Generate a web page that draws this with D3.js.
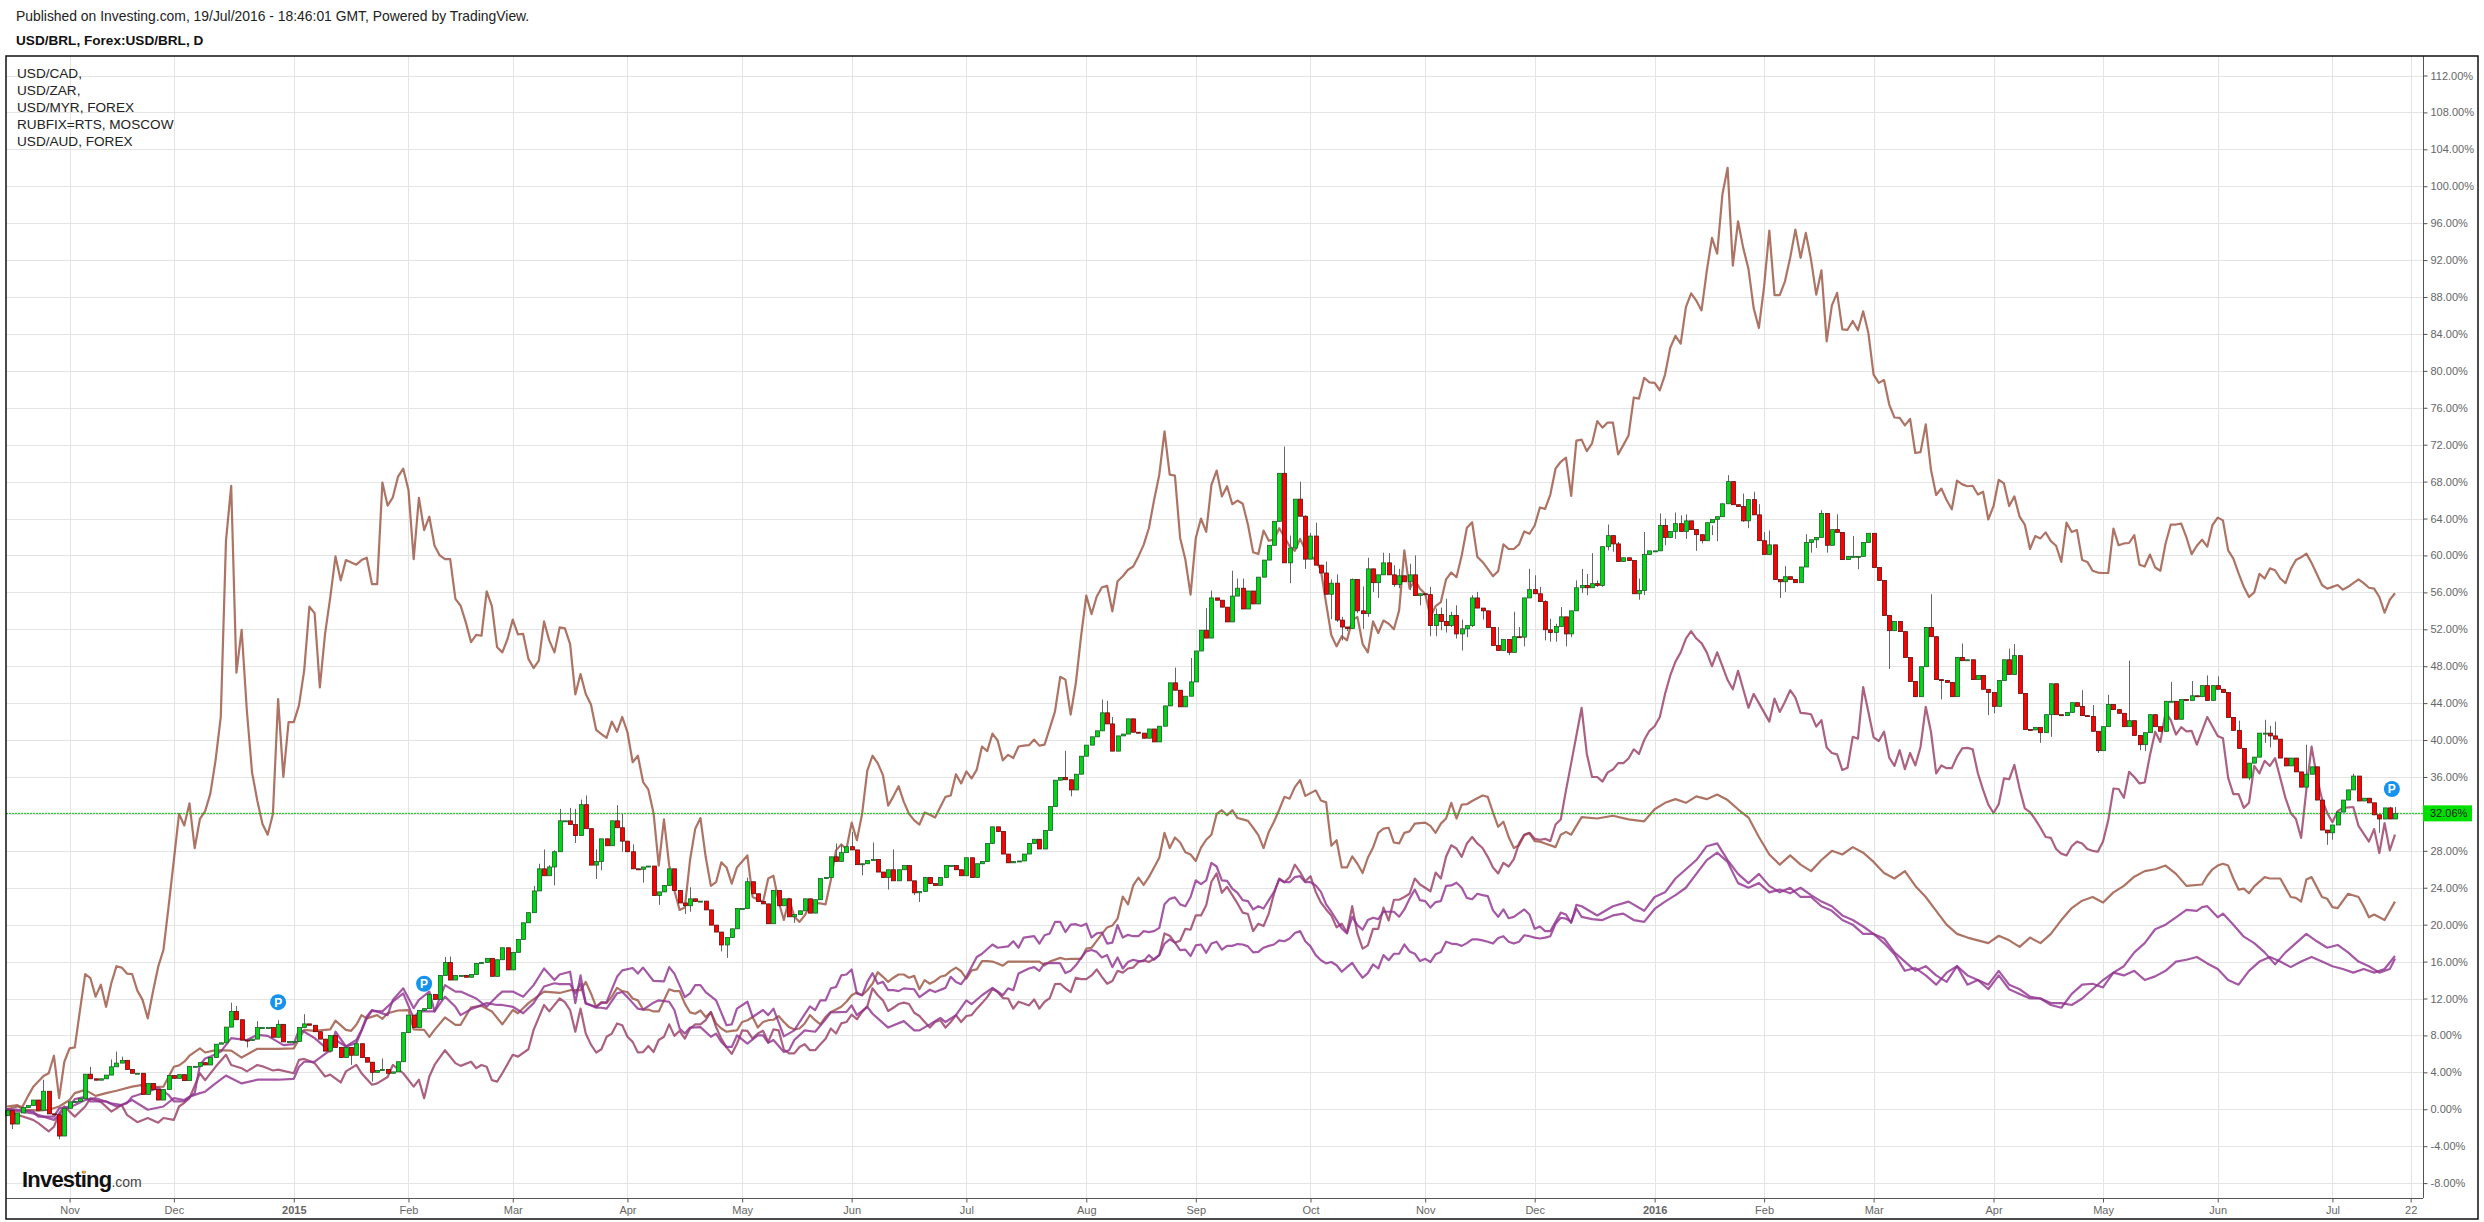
<!DOCTYPE html>
<html>
<head>
<meta charset="utf-8">
<title>USD/BRL</title>
<script src="https://cdnjs.cloudflare.com/ajax/libs/d3/7.8.5/d3.min.js"></script>
<style>
  html, body { margin: 0; padding: 0; background: #fff; }
  svg { display: block; font-family: "Liberation Sans", Arial, sans-serif; }
  .axis text { fill: #666; font-size: 11px; font-family: "Liberation Sans", Arial, sans-serif; }
  .axis path, .axis line { stroke: #555; }
</style>
</head>
<body>
<div id="chart"></div>
<script>
// text
var publishedText = "Published on Investing.com, 19/Jul/2016 - 18:46:01 GMT, Powered by TradingView.";
var titleText = "USD/BRL, Forex:USD/BRL, D";
var legendLines = ["USD/CAD,", "USD/ZAR,", "USD/MYR, FOREX", "RUBFIX=RTS, MOSCOW", "USD/AUD, FOREX"];

// axes
var yTicks = [-8, -4, 0, 4, 8, 12, 16, 20, 24, 28, 32, 36, 40, 44, 48, 52, 56, 60, 64, 68, 72, 76, 80, 84, 88, 92, 96, 100, 104, 108, 112];
var monthIdx = [12, 32, 55, 77, 97, 119, 141, 162, 184, 207, 228, 250, 272, 293, 316, 337, 358, 381, 402, 424, 446, 461];
var monthLabels = ["Nov", "Dec", "2015", "Feb", "Mar", "Apr", "May", "Jun", "Jul", "Aug", "Sep", "Oct", "Nov", "Dec", "2016", "Feb", "Mar", "Apr", "May", "Jun", "Jul", "22"];
var lastValue = 32.06;

// USD/BRL daily closes in % (one per bar), open is taken as the previous close
var firstOpen = -0.7;
var closes = [
  -0.15,-1.6,-0.4,0.2,0.4,1.0,-0.1,1.95,-0.5,-0.6,
  -2.9,0.1,0.8,0.85,1.15,3.8,3.3,3.15,3.3,3.7,
  4.6,5.0,5.3,4.3,3.9,3.9,1.6,2.8,2.15,1.0,
  2.15,3.65,3.35,3.75,3.1,4.65,4.65,5.05,4.8,5.6,
  7.05,7.2,8.9,10.6,9.7,7.5,7.45,7.6,8.85,8.85,
  8.85,7.8,9.2,7.3,7.35,7.35,8.85,9.25,9.1,8.4,
  7.6,6.3,8.0,6.7,5.6,6.7,5.85,7.1,5.6,5.1,
  4.0,4.2,4.3,3.9,4.05,5.15,8.3,10.2,8.85,10.7,
  10.9,12.45,11.9,14.5,15.9,14.0,14.5,14.5,14.3,14.6,
  15.8,15.9,16.35,14.4,16.2,17.5,15.1,17.0,18.4,20.2,
  21.3,23.65,26.05,25.3,26.25,27.9,31.25,31.25,30.85,29.65,
  33.0,30.4,26.45,26.85,29.3,28.55,31.25,30.5,29.05,27.9,
  26.05,26.0,26.25,26.35,23.15,23.55,24.25,26.05,23.7,22.35,
  22.05,22.8,22.5,22.55,21.6,19.95,19.2,17.8,18.6,19.55,
  21.75,21.75,24.65,23.35,22.5,22.25,20.1,23.7,22.05,22.8,
  20.85,21.1,21.5,22.8,21.25,22.7,25.0,25.1,27.35,26.85,
  27.8,28.45,28.1,26.5,26.6,26.95,27.05,25.7,25.1,25.95,
  24.75,25.95,26.4,24.75,23.45,23.6,25.1,24.45,24.25,25.1,
  26.4,26.4,25.95,25.3,27.25,25.1,26.6,26.85,28.8,30.6,
  30.1,27.65,26.7,26.85,26.9,27.65,28.8,29.25,28.2,30.2,
  32.8,35.65,35.95,35.7,34.6,36.3,38.25,39.45,40.35,41.0,
  42.95,41.75,38.8,40.45,40.65,42.3,40.85,40.75,40.2,41.2,
  39.8,41.5,43.7,46.2,45.4,43.6,44.75,46.3,49.65,51.9,
  51.05,55.4,55.15,54.4,52.8,55.6,56.45,54.2,56.15,54.75,
  57.65,59.5,61.1,63.7,68.9,59.2,60.8,66.1,64.25,59.6,
  62.1,58.95,58.1,55.8,57.0,53.0,52.25,52.1,57.4,54.0,
  53.7,58.55,57.05,57.9,59.2,57.9,56.85,57.8,57.15,57.9,
  55.65,55.85,55.75,52.4,53.6,52.85,52.4,53.5,51.5,52.05,
  52.4,55.4,54.3,54.0,52.2,50.25,49.7,50.9,49.5,51.2,
  51.15,55.4,56.3,55.85,55.0,51.95,51.65,52.3,53.35,51.5,
  54.0,56.5,56.75,56.5,56.95,56.75,60.95,62.15,61.25,59.35,
  59.75,59.45,55.85,56.2,60.1,60.5,60.5,63.25,61.95,62.6,
  63.45,62.6,63.75,62.8,62.25,61.6,63.55,63.9,64.2,65.6,
  68.0,65.5,65.3,63.75,66.05,64.4,61.6,60.1,61.15,57.4,
  57.15,57.7,57.4,57.05,58.75,61.4,61.7,61.95,64.55,61.1,
  62.8,62.5,59.55,59.9,59.9,59.9,61.4,62.4,58.7,57.3,
  53.5,51.85,52.85,51.75,48.95,46.35,44.7,47.95,52.2,51.2,
  46.55,46.45,46.25,44.7,48.95,48.6,48.7,46.55,47.0,45.5,
  45.15,43.65,46.45,48.7,47.1,49.15,45.05,41.15,41.1,41.35,
  40.8,42.75,46.1,42.75,42.65,43.0,44.05,43.65,42.65,42.55,
  40.95,38.85,41.45,43.85,43.3,42.9,41.45,42.1,40.5,39.5,
  40.8,42.75,41.45,40.95,44.2,44.2,42.25,44.4,44.3,44.8,
  44.7,45.9,44.3,45.9,45.5,45.15,42.45,41.05,39.1,35.9,
  37.5,38.15,40.75,40.75,40.45,40.1,38.05,37.2,38.05,36.55,
  34.9,36.3,37.1,33.5,30.25,29.95,30.8,32.2,33.5,34.6,
  36.1,33.4,33.7,33.2,31.9,31.45,32.65,31.45,32.06
];

// wick tips that stick out of the body, [bar, %]
var wickHighs = [
  [7,3.2],[16,4.6],[20,5.4],[21,6.25],[22,5.7],[43,11.55],[44,11.2],[48,9.55],[52,9.65],[57,10.3],[67,7.6],[72,5.5],[84,16.5],[85,16.55],
  [101,24.2],[102,26.6],[103,28.15],[104,26.45],[105,28.05],[106,32.55],[108,32.65],[109,32.55],[110,33.55],[111,34],[112,30.4],[113,28.15],
  [117,32.95],[118,32],[120,28.7],[131,24.05],[142,25.1],[159,28.8],[160,28.7],[162,30.05],[166,28.9],[170,28.15],
  [203,38.85],[210,44.4],[211,44.25],[212,42.5],[224,47.85],[227,48.9],[230,54.3],[231,56.2],[235,58.35],[236,57.5],[237,57.5],
  [245,71.8],[246,62.15],[248,68],[249,64.35],[250,62.45],[251,63.55],[253,59.35],[254,57.4],[255,57.95],[256,53.35],[258,57.5],[260,56.65],[261,59.75],
  [264,60.3],[265,60.25],[266,58.95],[267,58.55],[269,59.1],[270,60],[273,56.6],[274,54.25],[275,54.35],[276,55.3],[277,53.9],[278,54.6],[279,53.05],
  [281,55.7],[282,56.05],[286,52.25],[289,53.9],[290,52.25],[292,58.55],[293,57.85],[294,56.6],[295,55.15],[296,53.15],[297,52.6],[298,54.4],
  [301,57.3],[302,58.55],[303,58],[304,60.25],[305,57.3],[307,63.35],[309,61.45],[312,59.45],[313,57.5],[314,62.55],[317,64.55],[318,64],[320,64.65],
  [321,64.35],[322,64.45],[327,63.25],[330,68.7],[333,66.7],[335,66.9],[336,65.55],[337,62.55],[338,62.7],[341,58.85],[345,62.3],[348,64.9],[351,64.45],[354,62.1],
  [369,55.8],[375,50.45],[384,49.9],[385,50.4],[398,45.4],[400,43.8],[403,44.9],[407,48.6],[415,46.3],[419,46.4],[422,47],[424,46.9],
  [428,42.1],[433,42.2],[434,41.55],[435,42],[441,39.5],[450,36.35],[457,32.75],[458,32.75]
];
var wickLows = [
  [1,-2.15],[10,-3.25],[46,6.7],[66,4.8],[70,3],
  [105,24.25],[109,28.85],[113,24.95],[114,25.9],[118,27.9],[122,24.55],[125,22.15],[130,21.15],[131,21.4],[137,17.1],[138,16.4],[151,20.2],
  [164,25.35],[169,23.8],[174,23.2],[175,22.45],[204,33.9],
  [246,57],[249,58.55],[254,53.1],[255,52.8],[256,50.8],[257,51.8],[259,53.75],[260,52.05],[261,53.35],[262,56.05],[263,55.4],[266,56.6],[267,56.45],[269,56.25],
  [271,54.6],[273,51.25],[274,51.25],[275,51.9],[276,51.65],[277,52.25],[278,51],[279,49.7],[280,51.15],[281,52.25],[283,53.05],[288,49.2],[291,50.15],[292,55.4],
  [295,50.8],[296,50.65],[297,50.65],[299,50.15],[300,51.15],[302,55.95],[303,55.7],[305,56.6],[306,56.6],[307,60.55],[308,60.4],[313,55.2],[314,55.7],[318,61.1],
  [320,61.8],[322,61.8],[324,60.5],[325,61.3],[326,61.55],[327,62.2],[328,61.55],[333,63.65],[334,62.95],[340,55.4],[341,56.05],[346,60.3],[347,60.8],
  [349,60.3],[355,58.5],[361,47.7],[371,44.4],[380,42.7],[381,42.9],[390,39.7],[392,40.35],[401,38.6],[409,38.9],[410,38.8],[430,35.65],[433,39.7],[434,39.2],[445,28.65],[446,29.2],[455,29.95]
];

// compared series, [bar, %]
var rubPts = [
  [0,0],[2,.3],[3,.3],[4,1.4],[5,2.4],[6,3],[7,3.6],[8,3.9],[9,5.8],[10,1.2],[11,5.15],[12,6.6],[13,6.7],[14,10.75],[15,14.65],[16,14.2],[17,12.2],[18,13.5],[19,11.1],
  [20,13.65],[21,15.5],[22,15.35],[23,14.7],[24,14.65],[25,12.85],[26,11.85],[27,9.85],[28,12.75],[29,15.45],[30,17.25],[31,22],[32,27],[33,32],[34,30.75],[35,33.15],
  [36,28.3],[37,31.45],[38,32.3],[39,34.2],[40,37.8],[41,42.5],[42,61.6],[43,67.55],[44,47.3],[45,51.95],[46,43.2],[47,36.5],[48,33.45],[49,30.9],[50,29.75],[51,32],
  [52,44.45],[53,36],[54,41.95],[55,41.95],[56,43.75],[57,47.55],[58,54.45],[59,53.75],[60,45.7],[61,51.5],[62,55.45],[63,59.9],[64,57.3],[65,59.5],[67,59],[68,59.5],
  [69,59.75],[70,56.9],[71,56.9],[72,67.9],[73,65.4],[74,66.3],[75,68.55],[76,69.4],[77,67.1],[78,59.6],[79,66.25],[80,62.75],[81,64.2],[82,61.05],[83,60],[84,59.6],
  [85,59.6],[86,55.3],[87,54.55],[88,52.75],[89,50.6],[90,51.4],[91,51.3],[92,56.1],[93,54.5],[94,50.05],[95,49.5],[96,50.95],[97,53.05],[98,51.45],[99,51.5],[100,48.8],
  [101,47.8],[102,48.6],[103,52.85],[104,50.8],[105,49.5],[106,52.2],[107,52.1],[108,50.4],[109,44.95],[110,47.15],[111,45],[112,43.85],[113,41.1],[114,40.65],[115,40.25],
  [116,42],[117,40.9],[118,42.5],[119,40.85],[120,37.6],[121,38.3],[122,35.45],[123,34.65],[124,32.1],[125,26.4],[126,31.4],[127,26.45],[128,23.7],[129,21.6],[130,21.85],
  [131,27],[132,30.4],[133,31.55],[134,27.35],[135,24.2],[136,24.6],[137,26.75],[138,26.2],[139,24.45],[140,26.2],[141,26.85],[142,27.5],[143,23],[145,22.45],[146,25],
  [147,25.3],[148,22.45],[149,20.5],[150,22.8],[151,20.85],[152,20.3],[153,21],[154,22.1],[155,22.3],[156,22.3],[157,22.2],[158,24.8],[159,28.05],[160,28.7],[161,28.2],
  [162,31.05],[163,29.15],[164,32],[165,36.7],[166,38.3],[167,37.5],[168,36.2],[169,32.9],[170,33.9],[171,35],[172,33.3],[173,32],[174,31.3],[175,30.85],[176,32.15],
  [177,31.9],[178,31.6],[179,32.75],[180,33.85],[181,34],[182,36.3],[183,35.3],[184,36.6],[185,35.85],[186,36.8],[187,39.3],[188,38.8],[189,40.7],[190,39.95],[191,37.8],
  [192,38.4],[193,38.05],[194,39.3],[195,39.4],[196,39.45],[197,40.05],[198,39.4],[199,39.5],[200,41.3],[201,43.1],[202,46.85],[203,46.55],[204,42.75],[205,46.2],[206,51.25],
  [207,55.65],[208,53.65],[209,55.55],[210,56.55],[211,56.7],[212,53.95],[213,57.2],[214,57.75],[215,58.45],[216,58.8],[217,59.9],[218,61.15],[219,62.95],[220,66],[221,68.75],
  [222,73.45],[223,68.75],[224,68.65],[225,61.9],[226,59.55],[227,55.75],[228,61.9],[229,64],[230,62.55],[231,67.65],[232,69.2],[233,66.4],[234,67.5],[235,65.55],[236,65.95],
  [237,65.6],[238,63.35],[239,60.35],[240,60.15],[241,62.7],[242,61.6],[243,61.7],[244,62.95],[245,62],[246,61],[247,60.5],[248,61.8],[249,60.6],[250,60],[251,59.5],[252,58.4],
  [253,54.8],[254,51.35],[255,50.15],[256,51.25],[257,50.8],[258,53],[259,53.35],[260,50.4],[261,49.5],[262,52.85],[263,51.6],[264,52.95],[265,52.6],[266,52],[267,54.05],
  [268,60.55],[269,56.4],[270,57.3],[271,56.4],[272,55.85],[273,53.35],[274,54.5],[275,54.95],[276,57.4],[277,58.15],[278,57.65],[279,60],[280,63],[281,63.6],[282,59.85],
  [283,59.3],[284,58.55],[285,57.75],[286,58.3],[287,61.2],[288,60.7],[289,60.7],[290,61.2],[291,62.6],[292,62.35],[293,63.25],[294,65.2],[295,65.05],[296,66.6],[297,69.4],
  [298,70.15],[299,70.6],[300,66.45],[301,72.45],[302,72.55],[303,71.3],[304,72.15],[305,74.55],[306,73.85],[307,74.4],[308,74.4],[309,70.95],[310,71.95],[311,73],[312,77.1],
  [313,77],[314,79.25],[315,78.75],[316,78.7],[317,77.9],[318,79.6],[319,82.5],[320,83.8],[321,82.95],[322,86.9],[323,88.4],[324,87.6],[325,86.55],[326,90.8],[327,94.4],
  [328,92.7],[329,99.1],[330,102],[331,91.4],[332,96.2],[333,93.3],[334,91.05],[335,86.8],[336,84.65],[337,89.15],[338,95.2],[339,88.2],[340,88.2],[341,89.7],[342,92.25],
  [343,95.3],[344,92.25],[345,94.95],[346,92.05],[347,88.25],[348,90.9],[349,83.2],[350,87.1],[351,88.45],[352,84.5],[353,84.45],[354,85.4],[355,84.4],[356,86.45],[357,84.1],
  [358,79.6],[359,78.7],[360,79],[361,76.35],[362,74.95],[363,74.9],[364,74.1],[365,74.8],[366,71.1],[367,71.2],[368,74.2],[369,69.3],[370,66.55],[371,67.25],[372,66],[373,65],
  [374,68.1],[375,67.7],[376,67.5],[377,67.55],[378,66.6],[379,66.9],[380,63.9],[381,65.35],[382,68.2],[383,67.8],[384,65.35],[385,66.4],[386,64.2],[387,63.35],[388,60.7],
  [389,62.1],[390,61.85],[391,62.5],[392,61.55],[393,61.05],[394,59.3],[395,63.55],[396,62.55],[397,62.75],[398,59.5],[399,59.3],[400,58.35],[401,58.15],[402,58.1],[403,58.1],
  [404,62.9],[405,61.1],[406,61.3],[407,61.35],[408,62.2],[409,59],[410,58.8],[411,60.1],[412,58.7],[413,58.35],[414,61.3],[415,63.35],[416,63.35],[417,63.45],[418,61.95],
  [419,60.15],[420,61.05],[421,61.7],[422,60.95],[423,63.3],[424,64.1],[425,63.8],[426,60.55],[427,59.65],[428,58.05],[429,56.6],[430,55.5],[431,56],[432,58],[433,57.5],
  [434,58.6],[435,58.4],[436,57.5],[437,57],[438,58.5],[439,59.5],[440,59.8],[441,60.2],[442,59.2],[443,58],[444,56.8],[445,56.4],[446,56.6],[447,56.8],[448,56.3],[449,56.6],
  [450,57],[451,57.4],[452,57],[453,56.5],[454,56.4],[455,55.5],[456,53.8],[457,55.2],[458,55.9]
];
var zarPts = [
  [0,.3],[2,.45],[3,-.05],[6,-.15],[8,-.05],[10,.3],[12,1],[13,1.75],[15,2.1],[17,1.45],[19,1.75],[21,2],[24,2.45],[26,2.65],[28,2.4],[30,2.45],[32,4.6],[33,4.75],[34,5.15],
  [35,5.8],[37,6.6],[38,6.15],[40,6.4],[43,6.35],[45,5.6],[48,6.55],[52,6.55],[55,6.6],[57,8.6],[59,8.5],[62,8.65],[63,9.6],[65,8.6],[66,8.5],[67,9.15],[68,10.2],[69,9.85],
  [71,10.2],[72,9.8],[73,10.4],[75,10.7],[77,10.75],[78,8.65],[80,8.6],[81,7.85],[82,8.6],[84,9.95],[86,9.15],[87,9.15],[89,11.05],[91,11.2],[93,10.6],[95,9.2],[97,10.75],
  [98,10.4],[100,11.5],[103,12.75],[106,12.6],[108,12.9],[109,12.9],[110,12.9],[111,13.8],[112,12.55],[113,11.1],[114,11.6],[115,11.5],[116,12.2],[117,13.15],[118,12.8],
  [119,12.7],[120,12],[121,11.8],[122,10.8],[123,10.8],[124,10.6],[125,10.6],[126,11.8],[127,13],[128,12.8],[129,12.8],[130,11.45],[131,10.5],[132,10.35],[133,10.7],[134,10],
  [135,10.5],[136,9.3],[137,8.75],[138,8.4],[139,8.5],[140,8.55],[141,9.45],[142,9.65],[143,10],[144,8.85],[145,9.45],[146,9.65],[147,9.7],[148,10.1],[149,9.45],[150,8.9],
  [151,8.65],[152,8.75],[153,9.3],[154,10.2],[155,9.65],[156,9.2],[157,10],[158,10.55],[159,10.8],[160,11.1],[161,11.65],[162,12.35],[163,12.65],[164,12.35],[165,12.9],
  [166,13.6],[167,14.85],[168,14.35],[169,13.8],[170,14.25],[171,14.6],[172,14.6],[173,14.25],[174,14.45],[175,13],[176,14],[177,13.6],[178,13.9],[179,14.35],[180,14.5],
  [181,15],[182,15.35],[183,14.95],[184,14.15],[185,15.05],[186,15.15],[187,16.05],[188,16.05],[189,16],[190,15.8],[191,15.55],[192,16],[198,16],[199,15.6],[200,16],[202,16.4],
  [203,16.25],[204,16.3],[206,16.3],[207,17.4],[208,17.5],[209,18.25],[210,19],[211,19.7],[212,19.9],[213,20.65],[214,23.05],[215,22.2],[216,24.25],[217,25.1],[218,24.3],
  [219,25.15],[220,26.2],[221,27.25],[222,29.95],[223,28.3],[224,29.45],[225,28.9],[226,27.85],[227,27.6],[228,26.9],[229,28.35],[230,29.2],[231,29.75],[232,32],[233,32.4],
  [234,31.85],[235,32.4],[236,31.55],[237,31.4],[238,31.25],[239,30.5],[240,29.7],[241,28.3],[242,30.05],[243,31.15],[244,32.45],[245,33.85],[246,33.65],[247,34.9],[248,35.65],
  [249,33.95],[250,34.25],[251,34.55],[252,33.45],[253,33.25],[254,28.55],[255,29.15],[256,26.2],[257,26.2],[258,27.4],[259,26.6],[260,25.6],[261,27.25],[262,28.35],[263,29.95],
  [264,30.4],[265,30.5],[266,28.9],[267,28.8],[268,29.95],[269,30.1],[270,30.95],[272,31.05],[273,30.7],[274,29.95],[275,30.95],[276,31.5],[277,33.2],[278,31.5],[279,33],
  [280,33.05],[281,33.4],[282,33.7],[283,34],[284,33.85],[285,32.15],[286,30.6],[287,31.15],[288,29.5],[289,28.3],[290,28.6],[291,29.7],[292,29.9],[293,29.05],[294,29],[295,28.8],
  [297,28.4],[298,29.75],[299,30.05],[300,29.75],[302,31.65],[305,31.5],[308,31.8],[311,31.4],[314,31.2],[316,32.5],[318,33.2],[320,33.6],[322,33.2],[324,33.9],[326,33.6],
  [328,34.1],[330,33.5],[332,32.5],[334,31.6],[336,29.5],[338,27.6],[340,26.5],[342,27.5],[344,26.5],[346,25.8],[348,27],[350,28],[352,27.6],[354,28.4],[356,27.8],[358,26.8],
  [360,25.6],[362,25],[364,25.8],[366,24.2],[368,23],[370,21.5],[372,20],[374,19],[376,18.6],[378,18.3],[380,18],[382,18.8],[384,18.3],[386,17.6],[388,18.6],[390,18],[392,19],
  [394,20.5],[396,21.8],[398,22.6],[400,23],[402,22.4],[404,23.5],[406,24.2],[408,25.2],[410,25.8],[412,26],[414,26.4],[416,25.5],[418,24.2],[421,24.35],[422,25.3],[423,26],
  [424,26.4],[425,26.6],[426,26.4],[427,25],[428,23.8],[429,23.9],[430,23.4],[431,24.15],[433,25.15],[434,25],[436,25],[438,23],[439,22.9],[440,22.5],[441,24.9],[442,25.15],
  [444,23],[445,22.8],[446,21.9],[447,21.8],[449,23.35],[451,23],[452,22],[453,20.8],[454,21.1],[456,20.5],[458,22.5]
];
var myrPts = [
  [0,0],[2,-.6],[5,-1.15],[6,-1.5],[8,-2.4],[9,-1.9],[10,-.45],[11,.3],[13,-.8],[15,.3],[16,1.2],[18,.8],[20,-.25],[22,.45],[23,-.6],[25,-1.4],[27,-.95],[29,-1.45],[30,-.95],
  [32,-1.15],[33,.3],[34,.7],[35,1.2],[37,3.9],[38,3.15],[40,4.6],[42,5.9],[43,4.8],[45,4.45],[46,4.1],[48,4.8],[49,4.65],[51,4.2],[52,4.3],[55,3.9],[56,5.35],[57,5.45],[59,5],
  [61,3.55],[62,3.75],[64,2.9],[65,4.1],[67,4.8],[68,3.9],[70,2.65],[71,2.8],[73,3.5],[74,4.8],[76,3.9],[78,2.45],[79,3.2],[80,1.2],[81,3.55],[82,4.8],[84,6.4],[86,5],[87,4.7],
  [89,5.15],[90,4.45],[91,4.8],[92,4.6],[93,3.15],[94,3],[95,3.9],[97,5.9],[98,5.7],[100,6.5],[101,8.6],[103,11.3],[104,10.6],[106,12],[107,11.6],[108,10.75],[109,8.4],[110,10.9],
  [111,8.2],[112,7],[113,6.15],[114,6.5],[115,7.85],[116,8.2],[117,9.3],[118,9.1],[119,7.85],[120,7.3],[121,6.15],[122,6.2],[123,6.85],[124,6.2],[125,7.5],[126,7.85],[127,9.2],
  [128,7.95],[129,8.5],[130,7.65],[131,8.75],[132,9.2],[133,9.2],[134,9.65],[135,10.55],[136,8.9],[137,7.65],[138,6.7],[139,6],[140,7.1],[141,8.55],[142,8.5],[143,7.65],[144,8.2],
  [145,8.5],[146,7.3],[147,8.65],[148,8.55],[149,6.45],[150,6.05],[151,6.05],[152,6.75],[153,7.05],[154,6.4],[155,6.4],[156,7.05],[157,7.65],[158,8.75],[159,8.2],[160,9.3],
  [161,9.45],[162,10.25],[163,9.75],[164,10.55],[165,11.15],[166,13.1],[167,12.35],[168,11.8],[169,10.65],[170,11],[171,11.4],[172,11.55],[173,11.4],[174,10.45],[175,10.1],
  [176,9.45],[177,8.85],[178,9.45],[179,9.65],[180,8.85],[181,9.45],[182,10.2],[183,9.45],[184,10.1],[185,10.2],[186,10.9],[187,11.5],[188,12.15],[189,13.05],[190,12.7],[191,12.05],
  [192,12],[193,10.9],[194,11.65],[195,11.45],[196,11.25],[197,11.9],[198,10.9],[199,11.65],[200,12.05],[201,13.55],[202,13.6],[203,13.1],[204,12.7],[205,14.25],[206,14.1],
  [207,14.1],[208,14.5],[209,15.15],[210,14.35],[211,13.6],[212,13.9],[213,15],[214,14.8],[215,15.25],[216,15.35],[217,15.95],[218,16.15],[219,15.95],[220,16.3],[221,16.7],
  [222,19.05],[223,18.8],[224,18.05],[225,18.25],[226,19.55],[227,19.45],[228,21],[229,21],[230,22.1],[231,24.65],[232,25.55],[233,23.45],[234,24.1],[235,23.2],[236,22.3],
  [237,21.3],[238,21.15],[239,19.3],[240,20.1],[241,19.85],[242,21.2],[243,23.35],[244,25],[245,24.6],[246,25.15],[247,26.5],[248,25.7],[249,24.7],[250,25.25],[251,23.55],
  [252,22.4],[253,21.65],[254,21],[255,19.7],[256,20.1],[257,19.15],[258,22],[259,19.05],[260,17.4],[261,17.75],[262,19.55],[263,19.55],[264,21.85],[265,20.45],[266,22.7],
  [267,22.7],[268,23],[269,23.35],[270,25],[271,24.35],[272,24],[273,23.6],[274,25.65],[275,25],[276,27.35],[277,28.6],[278,28.25],[279,27.35],[280,28.8],[281,29.5],[282,28.8],
  [283,28.3],[284,27.35],[285,26.2],[286,25.55],[287,26.7],[288,26.3],[289,27.1],[290,28.8],[291,29.75],[292,29.95],[293,29.3],[294,29.2],[295,29.3],[296,29.05],[297,30.85],
  [298,31.4],[299,34.55],[300,37.5],[301,40.5],[302,43.5],[303,38.5],[304,36],[305,36],[306,35.5],[307,36.5],[308,36.8],[309,37.5],[310,37.5],[311,38],[312,39],[313,38.5],
  [314,40],[315,41],[316,41.5],[317,42.5],[318,45],[319,47],[320,48.5],[321,49.5],[322,51],[323,51.8],[324,51],[325,50.5],[326,49.5],[327,48],[328,49.5],[329,48],[330,46.5],
  [331,45.5],[332,47.5],[333,45.5],[334,43.5],[335,45],[336,44],[337,43],[338,42],[339,44.5],[340,43.05],[341,44.15],[342,45.4],[343,44.6],[344,42.95],[345,42.9],[346,42.8],
  [347,41.45],[348,42.15],[349,39.2],[350,38.6],[351,38.45],[352,36.75],[353,37],[354,40.35],[355,40.15],[356,45.75],[357,43.05],[358,40.3],[359,39.9],[360,40.9],[361,38.1],
  [362,37.2],[363,38.9],[364,36.85],[365,38.6],[366,37.25],[367,39.25],[368,43.6],[369,40.9],[370,36.4],[371,37.25],[372,36.95],[373,36.95],[374,38.2],[375,39.1],[376,39.15],
  [377,39],[378,36.4],[379,34.6],[380,33],[381,32.1],[382,33.05],[383,35.85],[384,35.75],[385,37.3],[386,34.75],[387,32.6],[388,32.2],[389,31.4],[390,30.5],[391,29.5],[392,29.4],
  [393,28.2],[394,27.7],[395,27.5],[396,28.5],[397,29],[398,28.8],[399,28.2],[400,28],[401,27.9],[402,29],[403,31.3],[404,34.75],[405,34.7],[406,33.75],[407,36.55],[408,36],
  [409,35.3],[410,35.4],[411,38.35],[412,40.9],[413,39.8],[414,43],[415,42.15],[416,40.6],[417,41.4],[418,40.95],[419,41],[420,39.5],[421,41],[422,42.5],[424,40.45],[425,40.2],
  [426,35.9],[427,34.15],[428,34.15],[429,32.65],[430,33.2],[431,37.2],[432,36.4],[433,37.75],[434,37.2],[435,38.05],[437,33.7],[438,32.1],[439,31.45],[440,29.4],[441,34.6],
  [442,39.3],[443,36.05],[444,33.6],[445,32.1],[446,31.1],[447,32.3],[448,32.65],[450,32.75],[451,30.7],[453,29],[454,30.35],[455,27.75],[456,31],[457,28.05],[458,29.75]
];
var cadPts = [
  [0,0],[2,-.05],[5,-.25],[6,-.8],[9,-.8],[10,.1],[12,.3],[13,1.1],[15,1.35],[16,.85],[19,.85],[21,.3],[23,.65],[24,1.35],[27,1.9],[29,2.3],[31,1.55],[32,.85],[34,.85],[36,1.75],
  [37,4.8],[38,5.5],[39,5.7],[41,6.25],[43,7.7],[46,7.5],[48,8.05],[50,7.95],[53,6.95],[55,7.05],[56,8.6],[57,8.4],[59,7.7],[62,6.25],[63,8.4],[65,6.8],[67,7.5],[68,8.6],[69,10.05],
  [70,10.75],[73,10.2],[74,11.85],[76,13.1],[78,10.95],[79,11.85],[81,12.75],[82,10.6],[84,13.45],[86,12.75],[87,12.75],[90,12],[92,11.1],[94,12.25],[95,12.75],[97,12.75],[99,12.2],
  [101,13.45],[103,15.25],[105,14],[106,14.6],[108,14.9],[109,11.5],[110,14.5],[111,11.45],[113,11.1],[114,11.5],[115,11.6],[117,14.35],[118,15.05],[120,15.3],[121,14.7],[122,15.35],
  [124,13.9],[126,13.85],[127,15.4],[128,14.7],[130,12.15],[131,12.55],[132,13.45],[133,13.45],[134,12.7],[136,11.8],[138,9.1],[139,9.2],[140,10.9],[142,11.65],[143,10],[145,10.75],
  [146,10.2],[147,10.9],[149,7.9],[151,8.55],[152,9.45],[154,11.15],[155,10.75],[156,11.8],[157,11.8],[158,13.1],[159,13.25],[160,14.5],[161,14.6],[162,15.15],[163,12.55],[164,12.35],
  [165,13.8],[166,14.75],[167,13.6],[168,13.8],[169,12.9],[170,12.9],[171,12.8],[172,13.1],[174,13],[175,12.15],[177,12.95],[178,12.7],[180,13.15],[181,14.35],[182,13.8],[183,13.55],
  [184,14.35],[186,16.5],[187,16.85],[189,17.85],[190,17.5],[192,17.65],[193,18.2],[194,17.5],[195,18.6],[197,18.75],[198,17.95],[199,18.85],[200,19.05],[201,20.3],[202,20.3],[203,19.2],
  [204,20],[205,20.05],[206,19.85],[207,20.1],[208,18.6],[209,19.05],[210,19.15],[211,17.95],[212,18.05],[213,19.95],[214,18.6],[215,18.9],[216,18.75],[217,18.75],[218,19.3],[219,19.2],
  [220,19.3],[221,19.65],[222,22.2],[223,22.8],[224,22.95],[225,22.2],[226,22],[227,23],[228,24.8],[229,24.4],[230,24.8],[231,26.7],[232,26.3],[233,24.8],[234,24.75],[235,23.9],[236,23.45],
  [237,22.65],[238,22.55],[239,21.65],[240,22],[241,21.75],[242,22.65],[243,23.55],[244,24.9],[245,24.6],[246,24.6],[247,25.15],[248,25.25],[249,24.6],[250,24.6],[251,24.25],[252,23.55],
  [253,22.2],[254,21.4],[255,20.5],[256,19.6],[257,19.05],[258,20.85],[259,19.95],[260,19.45],[261,20.5],[262,20.75],[263,20.6],[264,21.4],[265,21.4],[266,21.4],[267,20.85],[268,21.65],
  [269,22.8],[270,23.8],[271,22.65],[272,22.55],[273,21.85],[274,22.45],[275,22.55],[276,24.2],[277,24.25],[278,24.55],[279,24],[280,22.9],[281,22.75],[282,23.35],[283,23.2],[284,23.1],
  [285,21.55],[286,20.85],[287,21.65],[288,20.7],[289,20.85],[290,21.25],[291,21.65],[292,21.1],[293,19.55],[294,19.8],[295,19.3],[296,19.3],[297,20.3],[298,21.3],[299,21.1],[300,20.2],
  [301,22.15],[302,22],[305,21],[308,22],[311,22.5],[314,21.5],[316,23],[318,23.5],[320,25],[322,26],[324,27],[326,28.5],[328,28.8],[330,27],[332,25.5],[334,24.5],[336,25.5],[338,24.2],
  [340,23.5],[342,24],[344,23],[346,23],[348,22],[350,21.5],[352,20.5],[354,20],[356,19],[358,19],[360,18.5],[362,17],[364,16],[366,15],[368,15.5],[370,14.5],[372,13.8],[374,15.5],[376,14.5],
  [378,14],[380,13.5],[382,15],[384,13.5],[386,13],[388,12.2],[390,12],[392,11.3],[394,11],[396,12.5],[398,13.5],[400,13.6],[402,13.2],[404,14.8],[406,15.5],[408,17],[410,18],[412,19.5],
  [414,20],[416,20.8],[418,21.6],[420,21.5],[421,21.9],[422,22],[424,20.8],[425,21.2],[427,20],[429,18.7],[431,18],[433,17],[435,15.7],[437,17],[439,18],[441,19],[443,18.2],[445,17.5],
  [447,17.8],[449,17],[451,16],[453,15.5],[455,14.8],[457,15.2],[458,16.3]
];
var audPts = [
  [0,0],[2,-.2],[5,-.45],[9,-1.15],[11,-.05],[13,.45],[15,1],[17,1.2],[20,.65],[22,.45],[24,1],[26,.3],[27,-.05],[30,.3],[32,1.2],[34,1],[35,1.35],[37,1.75],[38,1.9],[40,2.8],[42,3.65],
  [43,3.35],[45,2.8],[48,3.2],[52,3.2],[55,3.3],[56,4.6],[57,5.15],[59,5.15],[62,6.4],[63,7.5],[65,6.8],[67,7.15],[69,9.85],[70,10.65],[72,10.6],[74,11.65],[76,12.55],[78,9.85],[79,10.6],
  [82,10.6],[84,12.2],[86,11.1],[87,10.2],[89,10.85],[92,11.5],[94,11.3],[95,11.3],[97,11.1],[99,10.4],[101,11.5],[103,13.3],[105,13.65],[106,13.55],[108,13.55],[109,12.55],[110,13.6],
  [111,11.5],[113,11],[114,11],[115,10.9],[117,12.55],[118,12.7],[119,12.15],[121,10.9],[122,10.8],[124,11.55],[125,11.8],[127,11.65],[128,10.75],[129,8.75],[130,8.2],[131,8.85],[133,8.9],
  [135,7.85],[136,8.2],[137,7.3],[138,6.75],[139,6.75],[140,8],[142,7.1],[144,8],[145,8],[146,7.2],[147,7.5],[149,6.2],[150,6.4],[151,7.5],[153,8.55],[155,8.4],[157,9.75],[158,10.5],[161,10.55],
  [162,11.25],[163,10.2],[165,11.1],[166,10.35],[169,8.85],[172,9.55],[174,8.55],[175,8.55],[177,9.2],[179,9.9],[180,9.45],[182,10.2],[184,11.8],[185,11.4],[187,12.35],[189,13.15],[191,12.35],
  [192,13.1],[193,12.9],[194,14.7],[196,15.25],[197,15.4],[198,15],[199,15.8],[201,15.85],[202,15.8],[203,14.75],[204,15],[205,15.6],[206,16.4],[207,17.1],[208,17.25],[209,17.05],[210,16.45],
  [211,16.7],[212,15.4],[213,16.45],[214,15.25],[215,15.95],[216,16.2],[217,16.05],[218,16.05],[219,16.7],[220,16.2],[221,16.7],[222,17.95],[223,18.4],[224,18.05],[225,17.25],[226,17.3],
  [227,16.6],[228,17.75],[229,17.85],[230,16.95],[231,17.95],[232,18.15],[233,17.3],[234,17.7],[235,17.7],[236,17.9],[237,17.85],[238,17.65],[239,17],[240,17.05],[241,17.5],[242,17.7],
  [243,17.85],[244,18.3],[245,18.2],[246,18.5],[247,19.1],[248,19.3],[249,18.2],[250,17.65],[251,16.7],[252,16.15],[253,15.8],[254,15.95],[255,15.6],[256,14.9],[257,15.4],[258,15.85],[259,15],
  [260,14.25],[261,14.75],[262,15.7],[263,15.25],[264,16.7],[265,16.15],[266,16.85],[267,16.85],[268,17.85],[269,17.1],[270,16.85],[271,16.05],[272,16.3],[273,15.95],[274,16.8],[275,17.05],
  [276,18.15],[277,17.95],[278,17.9],[279,17.7],[280,18],[281,18.4],[282,18.4],[283,18.3],[284,18.15],[285,17.95],[286,18.55],[287,18.75],[288,18.15],[289,17.95],[290,18.15],[291,18.85],
  [292,18.75],[293,18.6],[294,18.5],[295,18.6],[296,18.75],[297,20.1],[298,20.75],[299,20.65],[300,20.3],[301,21.75],[302,20.85],[304,20.6],[306,20.5],[308,21],[310,21.2],[312,20.5],[314,20.3],
  [316,21.7],[318,22.5],[320,23.2],[322,24],[324,25.5],[326,27],[328,27.8],[330,26.8],[332,24.5],[334,24],[336,24.5],[338,23.5],[340,23.8],[342,23.4],[344,24],[346,23.2],[348,22.5],[350,22],
  [352,21],[354,20.5],[356,19.8],[358,19],[360,18],[362,16.8],[364,15],[366,15.3],[368,14.5],[370,13.5],[372,14.8],[374,15.5],[376,13.5],[378,14],[380,13],[382,14.5],[384,13],[386,12.5],[388,12],
  [390,12],[392,11.5],[394,11.5],[396,11.3],[398,12],[400,13],[402,14],[404,14.8],[406,14.5],[408,15],[410,14],[412,14.4],[414,15],[416,16],[418,16.2],[420,16.5],[422,15.8],[424,15.2],[426,14],
  [428,13.5],[430,15],[432,16],[434,16.5],[436,16],[438,15.4],[440,16],[442,16.5],[444,16],[446,15.5],[448,15.2],[450,14.8],[452,15.2],[454,14.8],[456,15.2],[458,16.6]
];

// "P" idea markers, bar and % level
var pinIdx = [52, 80, 457.4];
var pinVal = [11.6, 13.6, 34.7];

// set parameters/spacing
var svgWidth = 2484;
var svgHeight = 1222;
var frame = { left: 6, right: 2478, top: 56, bottom: 1219 };
var axisX = 2423;
var axisY = 1198;

var svg = d3.select("#chart")
  .append("svg")
  .attr("width", svgWidth)
  .attr("height", svgHeight);

// scales
var x = d3.scaleLinear().domain([0, 458]).range([7, 2395]);
var y = d3.scaleLinear().domain([-8, 112]).range([1183.1, 75.5]);

// header text
svg.append("text").attr("x", 16).attr("y", 21).attr("font-size", 13.9).attr("fill", "#222").text(publishedText);
svg.append("text").attr("x", 16).attr("y", 45).attr("font-size", 13.6).attr("font-weight", "bold").attr("fill", "#111").text(titleText);

// grid
svg.append("g").selectAll("line").data(yTicks).enter().append("line")
  .attr("x1", frame.left).attr("x2", axisX)
  .attr("y1", d => Math.round(y(d)) + 0.5).attr("y2", d => Math.round(y(d)) + 0.5)
  .attr("stroke", "#e4e4e4");
svg.append("g").selectAll("line").data(monthIdx).enter().append("line")
  .attr("x1", d => Math.round(x(d)) + 0.5).attr("x2", d => Math.round(x(d)) + 0.5)
  .attr("y1", frame.top).attr("y2", axisY)
  .attr("stroke", "#e4e4e4");

// compared lines, they sit under the candles
var line = d3.line().x(d => x(d[0])).y(d => y(d[1]));
var compared = [
  { pts: rubPts, color: "#98513e" },
  { pts: zarPts, color: "#98513e" },
  { pts: myrPts, color: "#963a63" },
  { pts: cadPts, color: "#8f2f8f" },
  { pts: audPts, color: "#8f2f8f" }
];
svg.append("g").selectAll("path").data(compared).enter().append("path")
  .attr("d", d => line(d.pts))
  .attr("fill", "none")
  .attr("stroke", d => d.color)
  .attr("stroke-opacity", 0.8)
  .attr("stroke-width", 2.2)
  .attr("stroke-linejoin", "round");

// last value line
svg.append("line")
  .attr("x1", frame.left).attr("x2", axisX)
  .attr("y1", y(lastValue)).attr("y2", y(lastValue))
  .attr("stroke", "#00c800").attr("stroke-dasharray", "2,1");

// candles
var highMap = new Map(wickHighs);
var lowMap = new Map(wickLows);
var bars = closes.map(function(c, i) {
  var o = i === 0 ? firstOpen : closes[i - 1];
  return {
    i: i, open: o, close: c,
    high: highMap.has(i) ? highMap.get(i) : Math.max(o, c),
    low: lowMap.has(i) ? lowMap.get(i) : Math.min(o, c)
  };
});

var candle = svg.append("g").selectAll("g").data(bars).enter().append("g");
candle.append("line")
  .attr("x1", d => Math.round(x(d.i)) + 0.5).attr("x2", d => Math.round(x(d.i)) + 0.5)
  .attr("y1", d => y(d.high)).attr("y2", d => y(d.low))
  .attr("stroke", "#666");
candle.append("rect")
  .attr("x", d => Math.round(x(d.i)) - 1.5)
  .attr("width", 4)
  .attr("y", d => Math.min(y(d.open), y(d.close)))
  .attr("height", d => Math.max(1, Math.abs(y(d.open) - y(d.close))))
  .attr("fill", d => d.close >= d.open ? "#00d614" : "#ff0000")
  .attr("stroke", d => d.close >= d.open ? "#1c5e2a" : "#5e1010")
  .attr("stroke-width", 0.8);

// idea pins
var pins = svg.append("g").selectAll("g").data(pinIdx).enter().append("g")
  .attr("transform", (d, i) => `translate(${x(d)}, ${y(pinVal[i])})`);
pins.append("circle").attr("r", 8).attr("fill", "#1592ee");
pins.append("text").attr("text-anchor", "middle").attr("y", 4.5)
  .attr("font-size", 12).attr("font-weight", "bold").attr("fill", "#fff").text("P");

// legend
svg.append("g").selectAll("text").data(legendLines).enter().append("text")
  .attr("x", 17).attr("y", (d, i) => 77.5 + i * 17)
  .attr("font-size", 13.6).attr("fill", "#222").text(d => d);

// logo
var logo = svg.append("text").attr("x", 22).attr("y", 1187);
logo.append("tspan").attr("font-size", 22).attr("font-weight", "bold").attr("letter-spacing", -0.8).attr("fill", "#111").text("Investing");
logo.append("tspan").attr("font-size", 14).attr("fill", "#444").text(".com");
svg.append("circle").attr("cx", 84).attr("cy", 1172).attr("r", 1.6).attr("fill", "#f5a623");

// axes
var rightAxis = d3.axisRight(y).tickValues(yTicks).tickSize(4).tickPadding(3).tickFormat(d => d.toFixed(2) + "%");
svg.append("g").attr("class", "axis").attr("transform", `translate(${axisX + 0.5}, 0)`).call(rightAxis)
  .select(".domain").attr("d", `M0,${frame.top}V${axisY}`);

var bottomAxis = d3.axisBottom(x).tickValues(monthIdx).tickSize(4).tickPadding(4).tickFormat((d, i) => monthLabels[i]);
var xAxisG = svg.append("g").attr("class", "axis").attr("transform", `translate(0, ${axisY + 0.5})`).call(bottomAxis);
xAxisG.select(".domain").attr("d", `M${frame.left},0H${axisX}`);
xAxisG.selectAll(".tick text").filter((d, i) => monthLabels[i].length === 4).attr("font-weight", "bold");

// last value label
svg.append("rect")
  .attr("x", axisX).attr("width", 49)
  .attr("y", y(lastValue) - 8).attr("height", 16)
  .attr("fill", "#00e000");
svg.append("text")
  .attr("x", axisX + 7).attr("y", y(lastValue) + 4)
  .attr("font-size", 11).attr("fill", "#222")
  .text(lastValue.toFixed(2) + "%");

// frame
svg.append("rect")
  .attr("x", frame.left).attr("y", frame.top)
  .attr("width", frame.right - frame.left).attr("height", frame.bottom - frame.top)
  .attr("fill", "none").attr("stroke", "#111").attr("stroke-width", 1.5);
</script>
</body>
</html>
